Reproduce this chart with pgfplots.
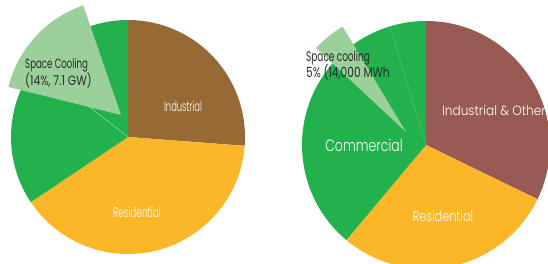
\documentclass[border=0pt]{standalone}
\usepackage{pgfplots}
\pgfplotsset{compat=1.18}
\usepackage{fontspec}
\setmainfont{Poppins}[UprightFont={* Light}]
\newfontfamily\popreg{Poppins}
\definecolor{brownL}{HTML}{966935}
\definecolor{yel}{HTML}{FBB727}
\definecolor{grn}{HTML}{23B14D}
\definecolor{lgrn}{HTML}{9BD09B}
\definecolor{redbr}{HTML}{975B54}
\definecolor{txtd}{HTML}{2B2B2B}
% cx, cy, r, start angle, end angle, colour
\newcommand{\sector}[6]{%
  \fill[#6] (axis cs:#1,#2) -- ++({#4}:#3bp) arc[start angle={#4},end angle={#5},radius=#3bp] -- cycle;}
\begin{document}
\begin{tikzpicture}
\begin{axis}[
  x=1bp, y=1bp,
  xmin=0, xmax=548, ymin=0, ymax=263,
  hide axis, clip=true,
]
\coordinate (ll) at (axis cs:0,0);
\coordinate (ur) at (axis cs:548,263);
% ---------------- left pie: centre (128,126), r=117
% shares (%): Industrial 26.2, Residential 39.4, Commercial 34.4
\sector{128}{126}{117}{90}{90-26.2*3.6}{brownL}
\sector{128}{126}{117}{90-26.2*3.6}{90-65.6*3.6}{yel}
\sector{128}{126}{117}{90-65.6*3.6}{-270}{grn}
\draw[white, opacity=0.6, line width=0.4pt] (axis cs:128,126) -- ++(142:117bp);
% exploded space-cooling slice (14%)
\sector{121}{148}{116}{109}{166}{lgrn}
% ---------------- right pie: centre (426,118), r=124
% shares (%): Industrial & Other 32.2, Residential 28.9, Commercial 38.9
\sector{426}{118}{124}{90}{90-32.2*3.6}{redbr}
\sector{426}{118}{124}{90-32.2*3.6}{90-61.1*3.6}{yel}
\sector{426}{118}{124}{90-61.1*3.6}{-270}{grn}
\draw[white, opacity=0.6, line width=0.3pt, dash pattern=on 1pt off 1pt] (axis cs:426,118) -- ++(107:124bp);
% space cooling wedge (5%)
\sector{406}{131}{123}{121}{137}{lgrn}
% ---------------- labels
\node[white, font=\fontsize{14}{15}\selectfont] at (axis cs:183,157) {\scalebox{0.6}[1]{Industrial}};
\node[white, font=\fontsize{14}{15}\selectfont] at (axis cs:137,51) {\scalebox{0.64}[1]{Residential}};
\node[txtd, anchor=west, align=left, inner sep=0pt, font=\popreg\fontsize{13.5}{17}\selectfont] at (axis cs:25,189.5)
  {\scalebox{0.64}[1]{Space Cooling}\\\scalebox{0.8}[1]{(14\%, 7.1 GW)}};
\node[txtd, anchor=west, align=left, inner sep=0pt, font=\popreg\fontsize{14}{17}\selectfont] at (axis cs:306,197.5)
  {\scalebox{0.64}[1]{Space cooling}\\\scalebox{0.76}[1]{5\% (14,000 MWh}};
\node[white, anchor=west, inner sep=0pt, font=\fontsize{13.5}{14}\selectfont] at (axis cs:442,152) {\scalebox{0.9}[1]{Industrial \& Other}};
\node[white, font=\fontsize{16.5}{17}\selectfont] at (axis cs:364,118) {\scalebox{0.76}[1]{Commercial}};
\node[white, font=\fontsize{14.5}{15}\selectfont] at (axis cs:443,47) {\scalebox{0.78}[1]{Residential}};
\end{axis}
\pgfresetboundingbox
\path (ll) rectangle (ur);
\end{tikzpicture}
\end{document}
